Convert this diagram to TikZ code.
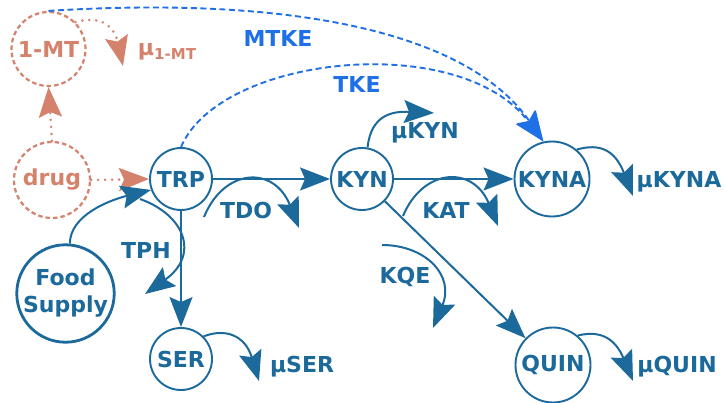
\documentclass[tikz,border=0pt]{standalone}
\usepackage{fontspec}
\setmainfont{DejaVu Sans}
\usetikzlibrary{arrows.meta}
\definecolor{flow}{RGB}{28,105,155}
\definecolor{drugc}{RGB}{212,130,108}
\definecolor{effect}{RGB}{31,111,230}

\begin{document}
\begin{tikzpicture}[x=1pt,y=-1pt,
  lbl/.style={font=\fontsize{22}{26}\selectfont\bfseries,inner sep=0pt},
  pool/.style={circle,draw=flow,line width=1.9pt,text=flow,inner sep=0pt,lbl},
  agent/.style={circle,draw=drugc,line width=2.2pt,dash pattern=on 4.5pt off 3pt,text=drugc,inner sep=0pt,lbl},
  head/.style={-{Stealth[length=30pt,width=23pt,inset=5pt]}},
  flowarrow/.style={draw=flow,line width=2pt,head},
  drugarrow/.style={draw=drugc,line width=2.8pt,line cap=round,dash pattern=on 0pt off 7pt,head},
  effectarrow/.style={draw=effect,line width=1.9pt,dash pattern=on 6pt off 3.5pt,head},
  flowtext/.style={lbl,text=flow},
]
\useasboundingbox (0,0) rectangle (725,403);

% compartments
\node[agent,minimum size=74pt] (MT) at (48.5,49) {1-MT};
\node[agent,minimum size=76pt] (drug) at (52,180) {drug};
\node[pool,minimum size=62pt] (TRP) at (181,179) {TRP};
\node[pool,minimum size=62pt] (KYN) at (362,179) {KYN};
\node[pool,minimum size=75pt] (KYNA) at (552,179) {KYNA};
\node[pool,minimum size=97pt,line width=2.8pt,align=center,
      font=\fontsize{22}{27}\selectfont\bfseries] (food) at (65.5,293.5) {Food\\Supply};
\node[pool,minimum size=62pt] (SER) at (181,359) {SER};
\node[pool,minimum size=75pt] (QUIN) at (553,365) {QUIN};

% free ends of the decay and enzyme arrows
\coordinate (mtout) at (123,66);
\coordinate (kynout) at (434,113);
\coordinate (serout) at (259,381);
\coordinate (kynaout) at (633,196);
\coordinate (quinout) at (633,381);
\coordinate (tdoA) at (204,217);
\coordinate (tdoB) at (299,228);
\coordinate (katA) at (403,216);
\coordinate (katB) at (498,226);
\coordinate (tphA) at (140,199);
\coordinate (tphB) at (145,294);
\coordinate (kqeA) at (382,245);
\coordinate (kqeB) at (433,328);

% drug effects
\draw[drugarrow] (drug.north) -- (MT.south);
\draw[drugarrow] (drug.east) -- (TRP.west);
\draw[drugarrow] (MT.45) .. controls (105,14) and (115,30) .. (mtout);

% kynurenine enhancement
\draw[effectarrow] (MT.north) .. controls (300,-5) and (470,35) .. (KYNA.103);
\draw[effectarrow] (TRP.north) .. controls (220,55) and (460,30) .. (KYNA.103);

% main pathway
\draw[flowarrow] (food.85) .. controls (70,215) and (110,200) .. (TRP.200);
\draw[flowarrow] (TRP.east) -- (KYN.west);
\draw[flowarrow] (KYN.east) -- (KYNA.west);
\draw[flowarrow] (TRP.south) -- (SER.north);
\draw[flowarrow] (KYN) -- (QUIN);

% enzymes
\draw[flowarrow] (tdoA) .. controls (224,168) and (274,165) .. (tdoB);
\draw[flowarrow] (katA) .. controls (423,168) and (473,165) .. (katB);
\draw[flowarrow] (tphA) .. controls (185,215) and (200,255) .. (tphB);
\draw[flowarrow] (kqeA) .. controls (425,245) and (455,275) .. (kqeB);

% decay
\draw[flowarrow] (KYN.80) .. controls (371,115) and (392,111) .. (kynout);
\draw[flowarrow] (SER.45) .. controls (225,328) and (245,335) .. (serout);
\draw[flowarrow] (KYNA.50) .. controls (600,143) and (615,150) .. (kynaout);
\draw[flowarrow] (QUIN.50) .. controls (600,330) and (615,338) .. (quinout);

% labels
\node[lbl,text=drugc] (mtlbl) at (167,52) {μ\raisebox{-0.35ex}{\fontsize{15}{15}\selectfont 1-MT}};
\node[lbl,text=effect] (mtke) at (278,38) {MTKE};
\node[lbl,text=effect] (tke) at (357,84) {TKE};
\node[flowtext] (tdo) at (246,210) {TDO};
\node[flowtext] (tph) at (146,250) {TPH};
\node[flowtext] (kat) at (446,210) {KAT};
\node[flowtext] (kqe) at (405,277) {KQE};
\node[flowtext] (mukyn) at (425,133) {μKYN};
\node[flowtext] (muser) at (302,367) {μSER};
\node[flowtext] (mukyna) at (679,182) {μKYNA};
\node[flowtext] (muquin) at (677,367) {μQUIN};
\end{tikzpicture}
\end{document}
